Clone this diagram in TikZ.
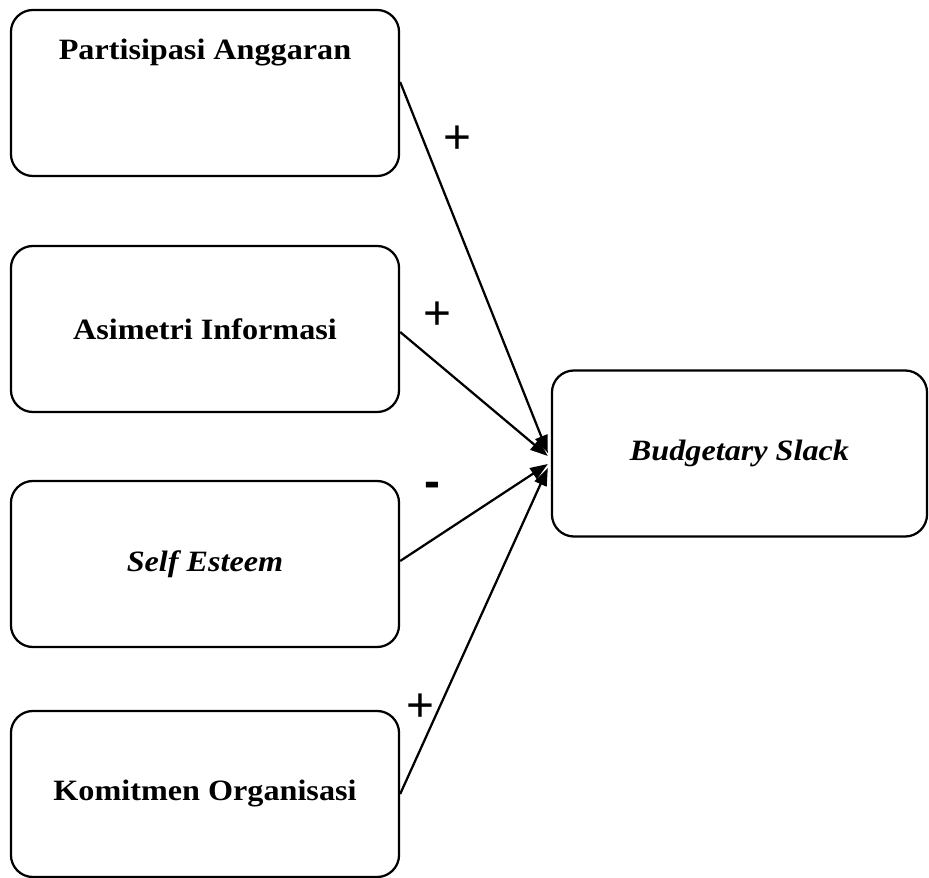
\documentclass[tikz,border=0pt]{standalone}
\usepackage{fontspec}
\setmainfont{Liberation Serif}
\newfontfamily\signfont{Liberation Sans}
\usepackage{graphicx}
\usetikzlibrary{arrows.meta}

\newcommand{\wide}[1]{\scalebox{1.09}[1]{#1}}

\begin{document}
\begin{tikzpicture}[x=0.025cm, y=-0.025cm, line width=1.6pt,
    >={Triangle[length=0.44cm, width=0.32cm]},
    box_style/.style = {draw, rectangle, rounded corners=0.55cm, minimum width=9.7cm, minimum height=4.15cm, inner sep=0pt},
    txt_style/.style = {font=\fontsize{21}{25}\selectfont\bfseries, inner sep=0pt},
    sign_style/.style = {font=\fontsize{34}{40}\selectfont\signfont, inner sep=0pt}]

\useasboundingbox (0,0) rectangle (929,878);

% independent variables
\node[box_style] (pa) at (205,93) {};
\node[txt_style] (pa_txt) at (205,53) {\wide{Partisipasi Anggaran}};

\node[box_style, txt_style] (ai) at (205,329) {\wide{Asimetri Informasi}};

\node[box_style, txt_style] (se) at (205,564) {\wide{\itshape Self Esteem}};

\node[box_style, txt_style] (ko) at (205,794) {\wide{Komitmen Organisasi}};

% dependent variable
\node[box_style, txt_style, minimum width=9.375cm] (bs) at (739.5,453.5) {\wide{\itshape Budgetary Slack}};

% arrow ends at budgetary slack
\coordinate (e1) at ([shift={(-3,-0.5)}]bs.west);
\coordinate (e2) at ([shift={(-3,2.5)}]bs.west);
\coordinate (e3) at ([shift={(-3,10.5)}]bs.west);
\coordinate (e4) at ([shift={(-3,14.5)}]bs.west);

% partisipasi -> slack
\draw[->] ([shift={(0,-11)}]pa.east) -- (e1);

% asimetri -> slack
\draw[->] ([shift={(0,3)}]ai.east) -- (e2);

% self esteem -> slack
\draw[->] ([shift={(0,-3)}]se.east) -- (e3);

% komitmen -> slack
\draw[->] (ko.east) -- (e4);

% signs
\node[sign_style] (sg1) at (457,140) {+};
\node[sign_style] (sg2) at (437,316) {+};
\node[sign_style] (sg3) at (432,490) {\bfseries -};
\node[sign_style] (sg4) at (420,708) {+};

\end{tikzpicture}
\end{document}
